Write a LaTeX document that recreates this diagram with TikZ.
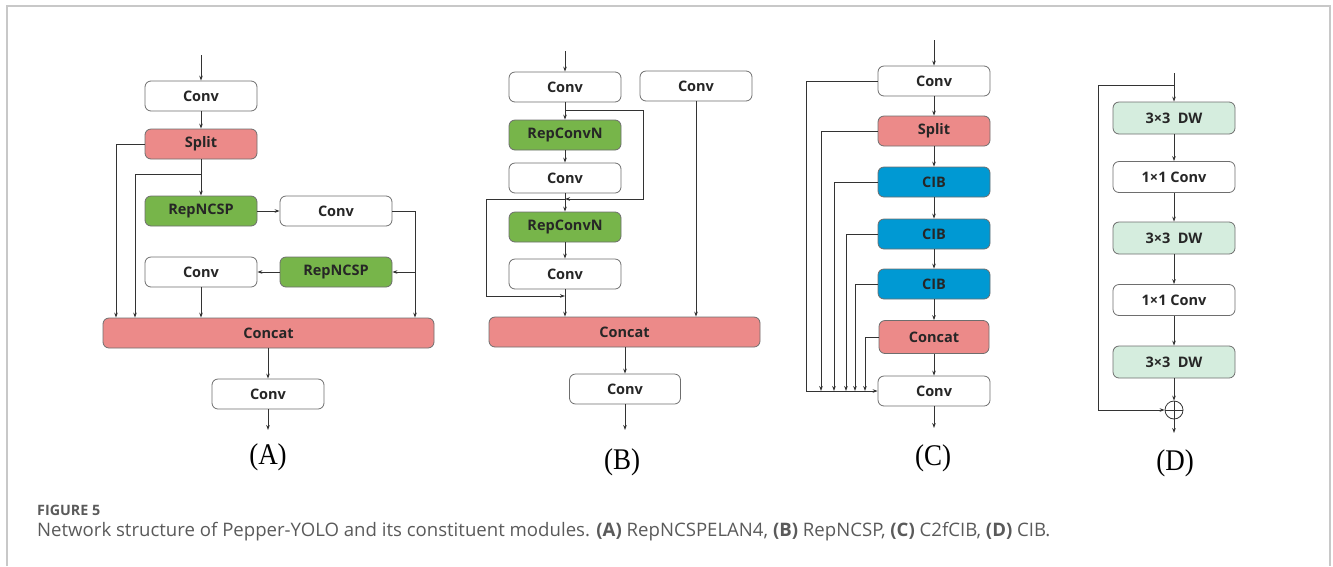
\documentclass[tikz,border=0pt]{standalone}
\usepackage{fontspec}
\setmainfont{Open Sans}
\newfontfamily\labfont{Liberation Serif}
\usetikzlibrary{arrows.meta}
\definecolor{pinkc}{HTML}{EC8A89}
\definecolor{greenc}{HTML}{77B54A}
\definecolor{bluec}{HTML}{0099D3}
\definecolor{dwc}{HTML}{D5EDDE}
\definecolor{edgec}{HTML}{6E6E6E}
\definecolor{linec}{HTML}{333333}
\definecolor{capc}{HTML}{5A5A5A}
\definecolor{framec}{HTML}{C8C8C8}
\begin{document}
\begin{tikzpicture}[x=1pt,y=-1pt,
  box/.style={draw=edgec, line width=0.8pt, rounded corners=6pt, fill=white,
    minimum width=112pt, minimum height=30pt, inner sep=0pt,
    font=\fontsize{14.5}{16}\selectfont\bfseries, text=black!85},
  pinkbox/.style={box, fill=pinkc},
  greenbox/.style={box, fill=greenc},
  bluebox/.style={box, fill=bluec},
  dwbox/.style={box, fill=dwc, minimum width=122pt, minimum height=32pt},
  convd/.style={box, minimum width=122pt, minimum height=31pt},
  arr/.style={draw=linec, line width=0.8pt, -{Stealth[length=5pt,width=3.6pt]}},
  ln/.style={draw=linec, line width=0.8pt},
  lab/.style={font=\labfont\fontsize{30}{32}\selectfont, inner sep=0pt, xscale=0.9},
]
\useasboundingbox (0,0) rectangle (1333,566);
\draw[framec, line width=1.5pt] (7,566) -- (7,6) -- (1330,6) -- (1330,566);

% ---------- Panel A ----------
\node[box] (a1) at (201,96) {Conv};
\node[pinkbox] (a2) at (201,144) {Split};
\node[greenbox] (a3) at (201,211) {RepNCSP};
\node[box] (a4) at (336,211) {Conv};
\node[greenbox] (a5) at (336,272) {RepNCSP};
\node[box] (a6) at (201,272) {Conv};
\node[pinkbox, minimum width=331pt] (a7) at (268.5,333) {Concat};
\node[box] (a8) at (268,394) {Conv};
\coordinate (aIn) at (201,55);
\coordinate (aOut) at (268,430);
\coordinate (aL1) at (116,0);
\coordinate (aL2) at (135,0);
\coordinate (aR) at (415,0);
\coordinate (aB) at (201,174);
\draw[arr] (aIn) -- (a1);
\draw[arr] (a1) -- (a2);
\draw[arr] (a2) -- (a3);
\draw[arr] (a2.west) -| (aL1 |- a7.north);
\draw[arr] (aB) -| (aL2 |- a7.north);
\draw[arr] (a3) -- (a4);
\draw[arr] (a4.east) -| (aR |- a7.north);
\draw[arr] (aR |- a5.east) -- (a5.east);
\draw[arr] (a5) -- (a6);
\draw[arr] (a6) -- (a6 |- a7.north);
\draw[arr] (a8 |- a7.south) -- (a8);
\draw[arr] (a8) -- (aOut);
\node[lab] (la) at (268,457) {(A)};

% ---------- Panel B ----------
\node[box] (b1) at (565,87) {Conv};
\node[box] (b2) at (696,86) {Conv};
\node[greenbox] (b3) at (565,135) {RepConvN};
\node[box] (b4) at (565,178) {Conv};
\node[greenbox] (b5) at (565,227) {RepConvN};
\node[box] (b6) at (565,274) {Conv};
\node[pinkbox, minimum width=271pt] (b7) at (624.5,332) {Concat};
\node[box, minimum width=111pt] (b8) at (625,389) {Conv};
\coordinate (bIn) at (565,51);
\coordinate (bOut) at (625,430);
\coordinate (bJ1) at (565,110);
\coordinate (bRc) at (643,199);
\coordinate (bJ2) at (565,199);
\coordinate (bL2) at (486,296);
\coordinate (bJ3) at (565,296);
\draw[arr] (bIn) -- (b1);
\draw[arr] (b1) -- (b3);
\draw[arr] (b3) -- (b4);
\draw[arr] (b4) -- (b5);
\draw[arr] (b5) -- (b6);
\draw[arr] (b6) -- (b6 |- b7.north);
\draw[arr] (b2) -- (b2 |- b7.north);
\draw[arr] (bJ1) -| (bRc) -- (bJ2);
\draw[arr] (bJ2) -| (bL2) -- (bJ3);
\draw[arr] (b8 |- b7.south) -- (b8);
\draw[arr] (b8) -- (bOut);
\node[lab] (lb) at (622,462) {(B)};

% ---------- Panel C ----------
\node[box] (c1) at (934,81) {Conv};
\node[pinkbox] (c2) at (934,131) {Split};
\node[bluebox] (c3) at (934,182) {CIB};
\node[bluebox] (c4) at (934,234) {CIB};
\node[bluebox] (c5) at (934,284) {CIB};
\node[pinkbox, minimum width=110pt, minimum height=33pt] (c6) at (934,337) {Concat};
\node[box] (c7) at (934,391) {Conv};
\coordinate (cIn) at (934,40);
\coordinate (cOut) at (934,428);
\coordinate (cx0) at (806,0);
\coordinate (cx1) at (821,0);
\coordinate (cx2) at (834,0);
\coordinate (cx3) at (846,0);
\coordinate (cx4) at (855,0);
\coordinate (cx5) at (865,0);
\draw[arr] (cIn) -- (c1);
\draw[arr] (c1) -- (c2);
\draw[arr] (c2) -- (c3);
\draw[arr] (c3) -- (c4);
\draw[arr] (c4) -- (c5);
\draw[arr] (c5) -- (c6);
\draw[arr] (c6) -- (c7);
\draw[arr] (c7) -- (cOut);
\draw[arr] (c1.west) -| (cx0 |- c7) -- (c7.west);
\draw[arr] (c2.west) -| (cx1 |- c7);
\draw[arr] (c3.west) -| (cx2 |- c7);
\draw[arr] (c4.west) -| (cx3 |- c7);
\draw[arr] (c5.west) -| (cx4 |- c7);
\draw[arr] (c6.west) -| (cx5 |- c7);
\node[lab] (lc) at (933,458) {(C)};

% ---------- Panel D ----------
\node[dwbox] (d1) at (1174,118) {3×3\ \ DW};
\node[convd] (d2) at (1174,177) {1×1 Conv};
\node[dwbox] (d3) at (1174,238) {3×3\ \ DW};
\node[convd] (d4) at (1174,300) {1×1 Conv};
\node[dwbox] (d5) at (1174,362) {3×3\ \ DW};
\node[circle, draw=linec, line width=0.8pt, minimum size=18pt, inner sep=0pt] (d6) at (1174,410) {};
\draw[ln] (d6.north) -- (d6.south) (d6.west) -- (d6.east);
\coordinate (dIn) at (1174,73);
\coordinate (dJ) at (1174,85);
\coordinate (dL) at (1098,410);
\coordinate (dOut) at (1174,433);
\draw[arr] (dIn) -- (d1);
\draw[arr] (d1) -- (d2);
\draw[arr] (d2) -- (d3);
\draw[arr] (d3) -- (d4);
\draw[arr] (d4) -- (d5);
\draw[arr] (d5) -- (d6);
\draw[arr] (d6) -- (dOut);
\draw[arr] (dJ) -| (dL) -- (d6.west);
\node[lab] (ld) at (1175,463) {(D)};

% ---------- Caption ----------
\node[anchor=west, inner sep=0pt, text=capc, font=\fontsize{14.3}{16}\selectfont\bfseries] (cap1) at (37,510) {FIGURE 5};
\node[anchor=west, inner sep=0pt, text=capc, font=\fontsize{18.6}{21}\selectfont] (cap2) at (37,532)
  {Network structure of Pepper-YOLO and its constituent modules. \textbf{(A)} RepNCSPELAN4, \textbf{(B)} RepNCSP, \textbf{(C)} C2fCIB, \textbf{(D)} CIB.};
\end{tikzpicture}
\end{document}
